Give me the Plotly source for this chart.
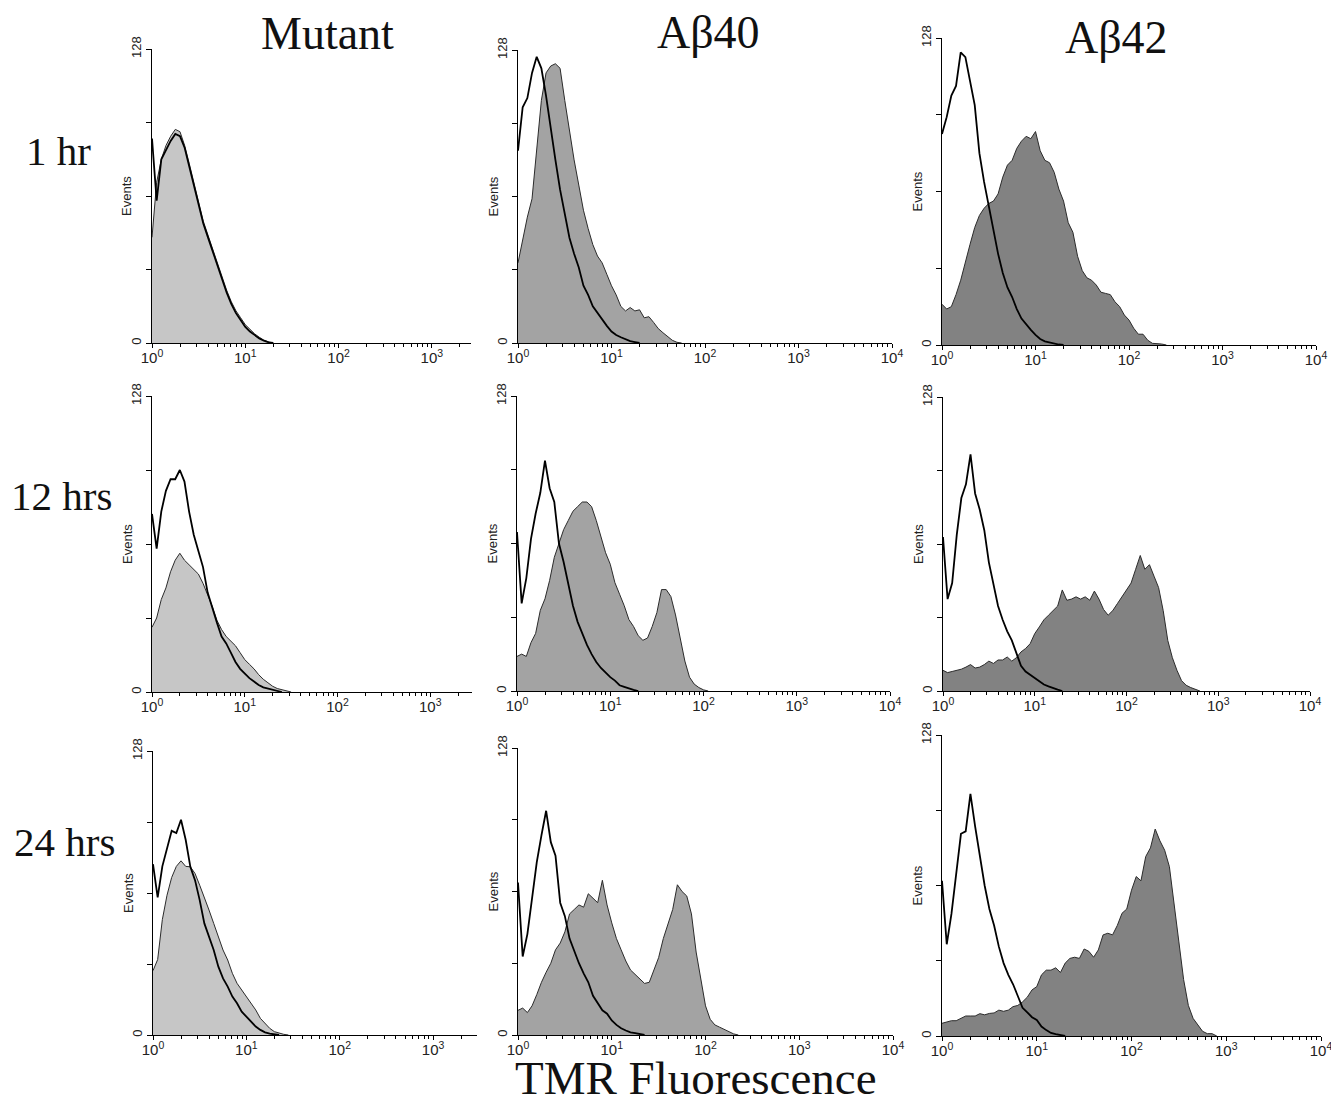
import plotly.graph_objects as go

W, H = 1339, 1103          # browser window
PAGE_MARGIN = 8            # default body margin of the html page
FW, FH = W - 2 * PAGE_MARGIN, H - 2 * PAGE_MARGIN
CHANNEL_STEP = 0.05  # histogram channel spacing, in decades of TMR fluorescence

columns = ["Mutant", "Aβ40", "Aβ42"]
rows = ["1 hr", "12 hrs", "24 hrs"]
x_tick_values = [1, 10, 100, 1000, 10000]
x_tick_labels = ["10<sup>0</sup>", "10<sup>1</sup>", "10<sup>2</sup>", "10<sup>3</sup>", "10<sup>4</sup>"]
y_tick_values = [0, 128]
y_tick_labels = ["0", "128"]
x_title = "TMR Fluorescence"

# Events per channel (channel k sits at 10^(k*CHANNEL_STEP)).
# "ctrl" = open black histogram, "tmr" = filled histogram.
mutant_1h_ctrl = [89, 62, 80, 84, 88, 91, 90, 85, 77, 68, 60, 52, 46, 40, 33, 27, 22, 17, 13, 10, 7, 5, 3.5, 2, 1, 0.3, 0]
mutant_1h_tmr = [46, 70, 80, 86, 90, 93, 92, 86, 78, 70, 61, 53, 47, 41, 34, 28, 23, 18, 14, 11, 8, 6, 4, 2.5, 1.2, 0.5, 0]

ab40_1h_ctrl = [84, 103, 107, 118, 125, 120, 108, 93, 80, 67, 57, 46, 39, 33, 25, 21, 16, 13, 10, 7.5, 5, 3.5, 2.5, 1.5, 0.8, 0.4, 0]
ab40_1h_tmr = [35, 45, 55, 63, 85, 106, 118, 121, 122, 120, 106, 92, 80, 69, 58, 50, 43, 38, 35, 30, 25, 21, 16, 14,
               15.5, 14, 14.5, 11, 11.5, 9, 6.3, 4.5, 3, 1.2, 0.3, 0]

ab42_1h_ctrl = [88, 95, 104, 108, 122, 120, 110, 100, 80, 68, 58, 48, 38, 30, 24, 20, 15, 11, 8.5, 6.3, 4.2, 2.5, 1.5, 1, 0.5, 0.2, 0]
ab42_1h_tmr = [17, 15, 16, 21, 27, 35, 42, 49, 54, 57, 59, 60, 63, 70, 75, 77, 82, 85, 87, 86, 89, 81, 77, 76, 72, 65,
               60, 51, 47, 37, 31, 28, 27, 25, 22, 21.5, 21, 18, 16, 12.5, 10.4, 7, 4.5, 4.5, 2, 0.7, 0.7, 0.4, 0]

mutant_12h_ctrl = [77, 62, 78, 87, 92, 92, 96, 91, 78, 68, 61, 54, 43, 36, 30, 24, 21, 17, 13, 10, 8, 6, 4.5, 3, 2, 1.5, 0.8, 0.4, 0]
mutant_12h_tmr = [28, 32, 40, 45, 52, 57, 60, 57, 55, 53, 51, 47, 42, 37, 31, 27, 24, 22, 20, 17, 14, 12, 10, 7.5, 5.5,
                  4, 2.5, 1.5, 1, 0.5, 0]

ab40_12h_ctrl = [69, 38, 49, 66, 77, 86, 100, 88, 82, 64, 56, 46, 37, 30, 25, 20, 16, 12.6, 10, 8, 6, 4.5, 2.5, 1.8, 1, 0.5, 0]
ab40_12h_tmr = [15, 16, 15, 21, 25, 35, 40, 48, 58, 64, 70, 74, 78, 80, 82, 82, 80, 74, 67, 60, 55, 47, 42, 37, 31, 28,
                24, 22, 23, 28, 34, 44, 44, 41, 33, 23, 13, 6, 3, 1.5, 0.5, 0]

ab42_12h_ctrl = [67, 40, 47, 68, 84, 90, 103, 86, 79, 70, 56, 46, 37, 31, 26, 22, 16, 11, 8.5, 7, 5.4, 4, 2.8, 2, 1.2, 0.6, 0]
ab42_12h_tmr = [9, 8, 8.5, 9, 9.5, 10.4, 11.5, 10, 10.4, 11.5, 13, 12, 13.5, 13.5, 14.8, 13, 14.5, 17, 18.5, 20.6, 25,
                27.9, 31, 33, 35, 37, 44, 39.5, 40, 41, 40, 41, 39.5, 43.5, 40, 35.5, 33, 35, 38, 41, 43.8, 47, 53, 59,
                53, 55, 50, 45, 35, 22, 14.5, 9, 4.5, 2.5, 1.5, 0.8, 0]

mutant_24h_ctrl = [77, 62, 76, 84, 92, 91, 97, 88, 75.8, 69.8, 60.8, 50.3, 44.3, 38.3, 30.8, 25.5, 21.8, 17.3, 14.3,
                   10.5, 8.3, 6, 3.8, 2.3, 1.2, 0.6, 0.2, 0]
mutant_24h_tmr = [29, 34, 52, 63, 71, 76, 78.5, 76, 75.8, 72.8, 67.5, 62.3, 56.3, 50.3, 44.3, 38.3, 33.8, 27.8, 23.3,
                  20.3, 17.3, 14.3, 11.3, 7.5, 5.3, 3, 1.5, 0.8, 0.3, 0]

ab40_24h_ctrl = [68, 35, 45, 61, 77, 89, 100, 86, 80, 59, 53, 43, 37, 32, 27.5, 23.5, 17.5, 14, 11, 9.5, 6.5, 4.5, 3, 2,
                 1.2, 0.8, 0.4, 0]
ab40_24h_tmr = [11, 12, 10, 13, 18, 23.5, 28, 32, 38, 41, 46, 54, 56, 58, 57, 63, 61, 59, 69, 58, 50, 43, 38, 33, 29,
                27, 24.6, 23, 23.5, 29, 34.5, 43, 50, 56, 67, 64, 62, 54, 37, 25, 13, 7, 4.5, 3.5, 2.5, 1.5, 0.5, 0]

ab42_24h_ctrl = [66, 39, 52, 68, 86, 87, 103, 89, 76, 64, 54, 47, 38, 31, 26, 22, 17, 12, 10, 8, 6.8, 4, 2.5, 1.3, 0.8, 0.4, 0]
ab42_24h_tmr = [5.4, 6, 6.5, 6.5, 7.5, 8.5, 8.5, 8.5, 9.5, 9, 9.6, 9.8, 11, 10.5, 11, 12.5, 13, 14.5, 16.5, 19.6, 21,
                26, 28, 28, 29, 27, 31, 33, 33.5, 33, 37, 36, 33.5, 36.6, 43, 43.7, 43, 47, 52.2, 54, 62, 67.8, 66,
                76.3, 80, 88, 83, 79, 72, 55, 40, 24, 13, 7.5, 4.5, 2, 1, 1, 0]

panels = [
    [(mutant_1h_ctrl, mutant_1h_tmr), (ab40_1h_ctrl, ab40_1h_tmr), (ab42_1h_ctrl, ab42_1h_tmr)],
    [(mutant_12h_ctrl, mutant_12h_tmr), (ab40_12h_ctrl, ab40_12h_tmr), (ab42_12h_ctrl, ab42_12h_tmr)],
    [(mutant_24h_ctrl, mutant_24h_tmr), (ab40_24h_ctrl, ab40_24h_tmr), (ab42_24h_ctrl, ab42_24h_tmr)],
]

# ---- styling / layout (window-pixel geometry of each panel: left, right, top, bottom, log x max)
fill_colors = ["#c6c6c6", "#a3a3a3", "#828282"]
geometry = [
    [(152, 471, 49, 343, 3.42), (518, 892, 50, 343, 4.0), (942, 1316, 38, 345, 4.0)],
    [(152, 472, 396, 692, 3.45), (517, 890, 396, 691, 4.0), (943, 1310, 397, 691, 4.0)],
    [(153, 477, 751, 1035, 3.47), (518, 893, 748, 1035, 4.0), (942, 1321, 735, 1036, 4.0)],
]
minor_x = [m * 10 ** d for d in range(4) for m in range(2, 10)]
serif = "Liberation Serif, Times New Roman, serif"
sans = "Liberation Sans, Arial, sans-serif"


def px(x):
    return (x - PAGE_MARGIN) / FW


def py(y):
    return 1 - (y - PAGE_MARGIN) / FH


def channels(values):
    return [10 ** (k * CHANNEL_STEP) for k in range(len(values))]


fig = go.Figure()
annotations = []
layout = {}
n = 0
for r in range(3):
    for c in range(3):
        n += 1
        ctrl, tmr = panels[r][c]
        left, right, top, bottom, xmax = geometry[r][c]
        xa = "x" if n == 1 else f"x{n}"
        ya = "y" if n == 1 else f"y{n}"
        fig.add_trace(go.Scatter(x=channels(tmr), y=tmr, mode="lines", fill="tozeroy",
                                 fillcolor=fill_colors[c], line=dict(color="#2b2b2b", width=1),
                                 xaxis=xa, yaxis=ya, showlegend=False, hoverinfo="skip"))
        fig.add_trace(go.Scatter(x=channels(ctrl), y=ctrl, mode="lines",
                                 line=dict(color="black", width=1.8),
                                 xaxis=xa, yaxis=ya, showlegend=False, hoverinfo="skip"))
        layout["xaxis" if n == 1 else f"xaxis{n}"] = dict(
            type="log", range=[0, xmax], domain=[px(left), px(right)], anchor=ya, automargin=False,
            showline=True, linecolor="black", linewidth=1.3, showgrid=False, zeroline=False,
            ticks="outside", ticklen=4, tickwidth=1, tickcolor="black", ticklabelstandoff=-3,
            ticklabeloverflow="allow",
            tickvals=x_tick_values, ticktext=x_tick_labels,
            tickfont=dict(family=sans, size=15, color="#222"),
            minor=dict(tickvals=minor_x, ticks="outside", ticklen=3, tickwidth=1, tickcolor="black"),
        )
        layout["yaxis" if n == 1 else f"yaxis{n}"] = dict(
            range=[0, 128], domain=[py(bottom), py(top)], anchor=xa, automargin=False,
            showline=True, linecolor="black", linewidth=1.3, showgrid=False, zeroline=False,
            ticks="outside", ticklen=5, tickwidth=1, tickcolor="black",
            tickvals=y_tick_values, ticktext=y_tick_labels, tickangle=-90,
            tickfont=dict(family=sans, size=13, color="#222"),
            minor=dict(tickvals=[32, 64, 96], ticks="outside", ticklen=5, tickwidth=1, tickcolor="black"),
        )
        annotations.append(dict(text="Events", textangle=-90, xref="paper", yref="paper",
                                x=px(left - 25), y=py((top + bottom) / 2),
                                xanchor="center", yanchor="middle",
                                showarrow=False, font=dict(family=sans, size=13, color="#222")))

col_title_pos = [(327, 34), (709, 33), (1116, 37)]
for name, (cx, cy) in zip(columns, col_title_pos):
    annotations.append(dict(text=name, xref="paper", yref="paper", x=px(cx), y=py(cy),
                            xanchor="center", yanchor="middle",
                            showarrow=False, font=dict(family=serif, size=46, color="#111")))
row_title_pos = [(58, 151), (62, 496), (64, 842)]
for name, (cx, cy) in zip(rows, row_title_pos):
    annotations.append(dict(text=name, xref="paper", yref="paper", x=px(cx), y=py(cy),
                            xanchor="center", yanchor="middle",
                            showarrow=False, font=dict(family=serif, size=41, color="#111")))
annotations.append(dict(text=x_title, xref="paper", yref="paper", x=px(696), y=py(1078),
                        xanchor="center", yanchor="middle",
                        showarrow=False, font=dict(family=serif, size=47, color="#111")))

fig.update_layout(width=FW, height=FH, margin=dict(l=0, r=0, t=0, b=0, autoexpand=False),
                  plot_bgcolor="white", paper_bgcolor="white",
                  annotations=annotations, **layout)
fig.write_html("out.html")
